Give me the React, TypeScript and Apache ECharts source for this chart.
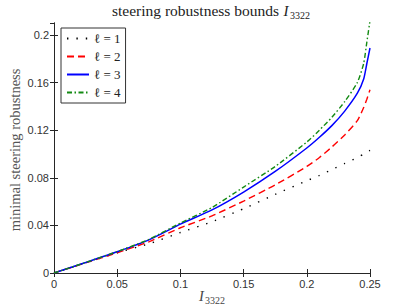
import React, { useEffect, useRef } from "react";
import * as echarts from "echarts";

const xValues = [0, 0.025, 0.05, 0.075, 0.1, 0.125, 0.15, 0.175, 0.2, 0.21, 0.22, 0.23, 0.24, 0.245, 0.2475, 0.25];
const ell1 = [0, 0.0085, 0.017, 0.0245, 0.034, 0.043, 0.054, 0.066, 0.0775, 0.082, 0.087, 0.092, 0.097, 0.1, 0.1015, 0.103];
const ell2 = [0, 0.0085, 0.017, 0.0262, 0.038, 0.048, 0.0604, 0.074, 0.0895, 0.097, 0.106, 0.116, 0.128, 0.139, 0.146, 0.154];
const ell3 = [0, 0.0088, 0.0178, 0.0278, 0.041, 0.053, 0.068, 0.0853, 0.105, 0.114, 0.124, 0.136, 0.151, 0.163, 0.176, 0.189];
const ell4 = [0, 0.0088, 0.018, 0.0282, 0.042, 0.055, 0.0722, 0.0895, 0.11, 0.12, 0.131, 0.144, 0.16, 0.176, 0.194, 0.212];
const seriesNames = ["ℓ = 1", "ℓ = 2", "ℓ = 3", "ℓ = 4"];
const xTicks = { min: 0, max: 0.25, interval: 0.05 };
const yTicks = { min: 0, max: 0.21, interval: 0.04 };

const pairs = (ys: number[]) => xValues.map((x, i) => [x, ys[i]]);

export default function App() {
  const ref = useRef<HTMLDivElement>(null);
  useEffect(() => {
    if (!ref.current) return;
    const chart = echarts.init(ref.current, undefined, { renderer: "svg" });
    const axisColor = "#262626";
    const serif = "'Liberation Serif', 'DejaVu Serif', serif";
    const sans = "'Liberation Sans', Arial, sans-serif";
    const baseAxis = {
      type: "value" as const,
      axisLine: { show: true, lineStyle: { color: axisColor, width: 1 } },
      axisTick: { show: true, inside: true, length: 4, lineStyle: { color: axisColor, width: 1 } },
      splitLine: { show: false },
    };
    const mkSeries = (name: string, data: number[], color: string, type: any, width: number) => ({
      name,
      type: "line" as const,
      data: pairs(data),
      showSymbol: false,
      symbol: "none",
      smooth: 0.2,
      clip: true,
      lineStyle: { color, width, type },
      itemStyle: { color },
      xAxisIndex: 0,
      yAxisIndex: 0,
    });
    chart.setOption({
      animation: false,
      backgroundColor: "#ffffff",
      grid: { left: 54, right: 39, top: 23, bottom: 34, containLabel: false },
      xAxis: [
        {
          ...baseAxis,
          position: "bottom",
          min: xTicks.min,
          max: xTicks.max,
          interval: xTicks.interval,
          axisLabel: { color: "#333", fontFamily: sans, fontSize: 11, margin: 5 },
        },
        {
          ...baseAxis,
          position: "top",
          min: xTicks.min,
          max: xTicks.max,
          interval: xTicks.interval,
          axisLabel: { show: false },
        },
      ],
      yAxis: [
        {
          ...baseAxis,
          position: "left",
          min: yTicks.min,
          max: yTicks.max,
          interval: yTicks.interval,
          axisLabel: { color: "#333", fontFamily: sans, fontSize: 11, margin: 5, showMaxLabel: false },
        },
        {
          ...baseAxis,
          position: "right",
          min: yTicks.min,
          max: yTicks.max,
          interval: yTicks.interval,
          axisLabel: { show: false },
        },
      ],
      legend: {
        show: true,
        orient: "vertical",
        left: 61,
        top: 28,
        padding: [4, 5, 4, 5],
        itemGap: 5,
        itemWidth: 22,
        itemHeight: 10,
        itemStyle: { opacity: 0 },
        backgroundColor: "#fff",
        borderColor: "#333",
        borderWidth: 1,
        borderRadius: 0,
        textStyle: { fontFamily: serif, fontSize: 13, color: "#222" },
        data: seriesNames,
      },
      series: [
        mkSeries(seriesNames[0], ell1, "#000000", [1.4, 8], 1.4),
        mkSeries(seriesNames[1], ell2, "#ff0000", [7, 4], 1.4),
        mkSeries(seriesNames[2], ell3, "#0000ff", "solid", 1.5),
        mkSeries(seriesNames[3], ell4, "#138a13", [5, 2.5, 1.5, 2.5], 1.4),
      ],
      graphic: [
        {
          type: "text",
          x: 279,
          y: 10.5,
          style: { text: "steering robustness bounds", font: `15.5px ${serif}`, fill: "#222", align: "right", verticalAlign: "middle" },
        },
        {
          type: "text",
          x: 283.5,
          y: 10.5,
          style: { text: "I", font: `italic 15px ${serif}`, fill: "#222", align: "left", verticalAlign: "middle" },
        },
        {
          type: "text",
          x: 290,
          y: 15.5,
          style: { text: "3322", font: `10px ${serif}`, fill: "#222", align: "left", verticalAlign: "middle" },
        },
        {
          type: "text",
          x: 199,
          y: 296,
          style: { text: "I", font: `italic 14.5px ${serif}`, fill: "#444", align: "left", verticalAlign: "middle" },
        },
        {
          type: "text",
          x: 205,
          y: 300.5,
          style: { text: "3322", font: `10px ${serif}`, fill: "#444", align: "left", verticalAlign: "middle" },
        },
        {
          type: "text",
          x: 14.5,
          y: 150,
          rotation: Math.PI / 2,
          style: { text: "minimal steering robustness", font: `14.5px ${serif}`, fill: "#555", align: "center", verticalAlign: "middle" },
        },
      ],
    });
    return () => chart.dispose();
  }, []);
  return <div ref={ref} style={{ width: 409, height: 307, position: "absolute", left: 0, top: 0 }} />;
}
